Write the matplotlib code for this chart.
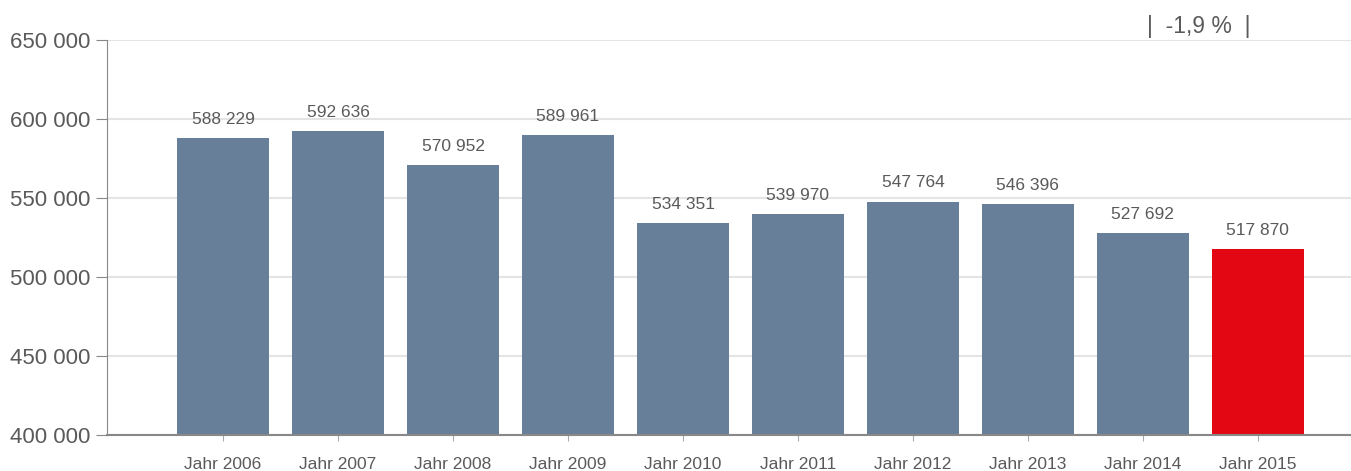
import matplotlib
matplotlib.use("Agg")
import matplotlib.pyplot as plt

categories = ["Jahr 2006", "Jahr 2007", "Jahr 2008", "Jahr 2009", "Jahr 2010",
              "Jahr 2011", "Jahr 2012", "Jahr 2013", "Jahr 2014", "Jahr 2015"]
values = [588229, 592636, 570952, 589961, 534351, 539970, 547764, 546396, 527692, 517870]
yticks = [400000, 450000, 500000, 550000, 600000, 650000]
change_label = "|  -1,9 %  |"

def fmt(v):
    return f"{v:,}".replace(",", " ")

plt.rcParams['font.family'] = ['Liberation Sans', 'DejaVu Sans']
fig = plt.figure(figsize=(13.51, 4.71), dpi=100)
ax = fig.add_axes([0.0792, 0.0764, 0.9208, 0.8387])

colors = ["#687f99"] * (len(values) - 1) + ["#e30613"]
x = list(range(len(values)))
ax.bar(x, values, width=0.8, color=colors, zorder=2)

for xi, v in zip(x, values):
    ax.text(xi, v + 7000, fmt(v), ha="center", va="bottom", fontsize=12.5, color="#5a5a5a")

ax.set_ylim(400000, 650000)
ax.set_xlim(-1.01, 9.81)
ax.set_yticks(yticks)
ax.set_yticklabels([fmt(t) for t in yticks], fontsize=16, color="#5a5a5a")
ax.set_xticks(x)
ax.set_xticklabels(categories, fontsize=12.5, color="#5a5a5a")
ax.tick_params(axis="y", length=8, color="#888888", pad=4)
ax.tick_params(axis="x", length=4, color="#aaaaaa", pad=12)
ax.yaxis.grid(True, color="#e4e4e4", linewidth=1.5, zorder=0)
ax.set_axisbelow(True)
for s in ["top", "right"]:
    ax.spines[s].set_visible(False)
ax.spines["left"].set_color("#888888")
ax.spines["bottom"].set_color("#888888")
ax.spines["bottom"].set_linewidth(1.5)

fig.text(1199 / 1351, 1 - 27 / 471, change_label, ha="center", va="center",
         fontsize=16.5, color="#5a5a5a")

fig.savefig("out.png", dpi=100)
